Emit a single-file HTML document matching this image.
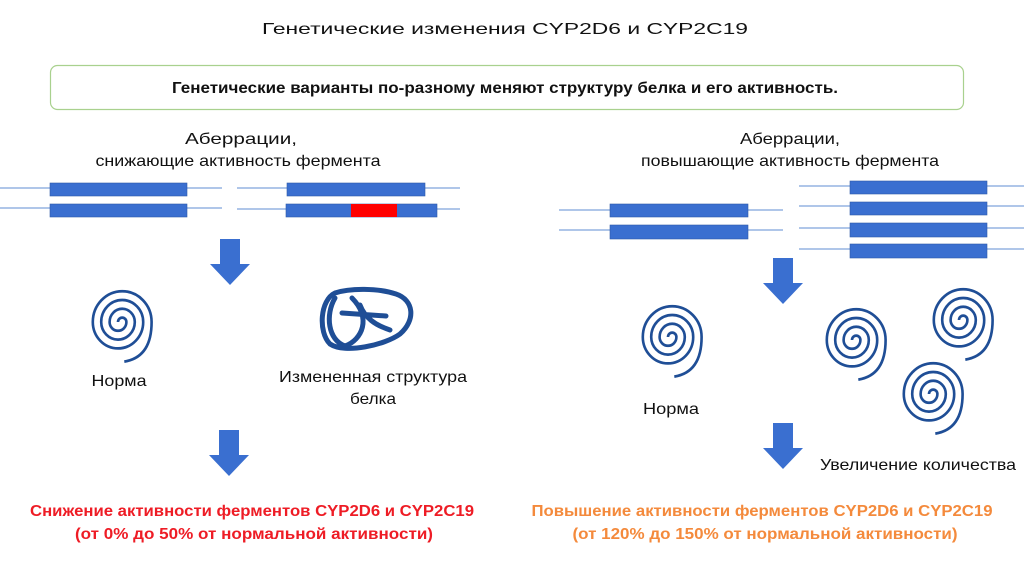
<!DOCTYPE html>
<html><head><meta charset="utf-8"><style>
body{margin:0;background:#fff}
svg{display:block}
text{font-family:"Liberation Sans Narrow","Liberation Sans",sans-serif;font-size:16px;fill:#111}
.b{font-weight:bold}
</style></head><body>
<svg width="1024" height="586" viewBox="0 0 1024 586" xmlns="http://www.w3.org/2000/svg">
<defs>
<path id="sp" d="M0,0 A4,4 0 0 1 8,0 A8,8 0 0 1 -8,0 A12,12 0 0 1 16,0 A16,16 0 0 1 -16,0 A20,20 0 0 1 24,0 A24,24 0 0 1 -24,0 A28,28 0 0 1 32,0 Q32,32 6,36" fill="none" stroke="#1f4e96" stroke-width="2.5"/>
<g id="arr"><polygon points="-10,0 10,0 10,25 20,25 0,46 -20,25 -10,25" fill="#3a6fd0"/></g>
</defs>
<text x="505" y="34" text-anchor="middle" font-size="19" textLength="486" lengthAdjust="spacingAndGlyphs" style="font-family:'Liberation Sans',sans-serif">Генетические изменения CYP2D6 и CYP2C19</text>
<rect x="50.5" y="65.5" width="913" height="44" rx="7" fill="#fff" stroke="#a9d18e" stroke-width="1.2"/>
<text x="505" y="93" text-anchor="middle" class="b" font-size="15" textLength="666" lengthAdjust="spacingAndGlyphs">Генетические варианты по-разному меняют структуру белка и его активность.</text>

<text x="241" y="144" text-anchor="middle" textLength="112" lengthAdjust="spacingAndGlyphs">Аберрации,</text>
<text x="238" y="166" text-anchor="middle" textLength="285" lengthAdjust="spacingAndGlyphs">снижающие активность фермента</text>
<g stroke="#7fa3dc" stroke-width="1.2">
<line x1="0" y1="188" x2="222" y2="188"/><line x1="0" y1="208" x2="222" y2="208"/>
<line x1="237" y1="188" x2="460" y2="188"/><line x1="237" y1="209" x2="460" y2="209"/>
<line x1="559" y1="210" x2="783" y2="210"/><line x1="559" y1="230" x2="783" y2="230"/>
<line x1="799" y1="186" x2="1024" y2="186"/><line x1="799" y1="206" x2="1024" y2="206"/>
<line x1="799" y1="228" x2="1024" y2="228"/><line x1="799" y1="249" x2="1024" y2="249"/>
</g>
<g fill="#3a6fd0" stroke="#2f5aa8" stroke-width="0.6">
<rect x="50" y="183" width="137" height="13"/><rect x="50" y="204" width="137" height="13"/>
<rect x="287" y="183" width="138" height="13"/><rect x="286" y="204" width="151" height="13"/>
<rect x="610" y="204" width="138" height="13"/><rect x="610" y="225" width="138" height="14"/>
<rect x="850" y="181" width="137" height="13"/><rect x="850" y="202" width="137" height="13"/>
<rect x="850" y="223" width="137" height="14"/><rect x="850" y="244" width="137" height="14"/>
</g>
<rect x="351" y="204" width="46" height="13" fill="#ff0000"/>

<use href="#arr" x="230" y="239"/>
<use href="#sp" transform="translate(118,322) scale(1.05,1.1)"/>
<g fill="none" stroke="#1f4e96" stroke-width="5" stroke-linecap="round">
<path d="M335,293 C320,300 318,332 330,344 C345,354 385,345 400,334 C416,320 414,300 396,294 C378,288 350,288 335,293 Z"/>
<path d="M335,298 C325,315 328,340 345,346 C362,340 372,318 352,298"/>
<path d="M342,313 L386,316 M360,305 C365,318 375,325 390,330"/>
</g>
<text x="119" y="386" text-anchor="middle" textLength="55" lengthAdjust="spacingAndGlyphs">Норма</text>
<text x="373" y="382" text-anchor="middle" textLength="188" lengthAdjust="spacingAndGlyphs">Измененная структура</text>
<text x="373" y="404" text-anchor="middle" textLength="46" lengthAdjust="spacingAndGlyphs">белка</text>
<use href="#arr" x="229" y="430"/>
<text x="252" y="516" text-anchor="middle" class="b" font-size="15" style="fill:#ee1c25" textLength="444" lengthAdjust="spacingAndGlyphs">Снижение активности ферментов CYP2D6 и CYP2C19</text>
<text x="254" y="539" text-anchor="middle" class="b" font-size="15" style="fill:#ee1c25" textLength="358" lengthAdjust="spacingAndGlyphs">(от 0% до 50% от нормальной активности)</text>

<text x="790" y="144" text-anchor="middle" textLength="100" lengthAdjust="spacingAndGlyphs">Аберрации,</text>
<text x="790" y="166" text-anchor="middle" textLength="298" lengthAdjust="spacingAndGlyphs">повышающие активность фермента</text>
<use href="#arr" x="783" y="258"/>
<use href="#sp" transform="translate(668,337) scale(1.05,1.1)"/>
<use href="#sp" transform="translate(852,340) scale(1.05,1.1)"/>
<use href="#sp" transform="translate(959,320) scale(1.05,1.1)"/>
<use href="#sp" transform="translate(929,394) scale(1.05,1.1)"/>
<text x="671" y="414" text-anchor="middle" textLength="56" lengthAdjust="spacingAndGlyphs">Норма</text>
<use href="#arr" x="783" y="423"/>
<text x="918" y="470" text-anchor="middle" textLength="196" lengthAdjust="spacingAndGlyphs">Увеличение количества</text>
<text x="762" y="516" text-anchor="middle" class="b" font-size="15" style="fill:#f48a3c" textLength="461" lengthAdjust="spacingAndGlyphs">Повышение активности ферментов CYP2D6 и CYP2C19</text>
<text x="765" y="539" text-anchor="middle" class="b" font-size="15" style="fill:#f48a3c" textLength="385" lengthAdjust="spacingAndGlyphs">(от 120% до 150% от нормальной активности)</text>
</svg>
</body></html>
